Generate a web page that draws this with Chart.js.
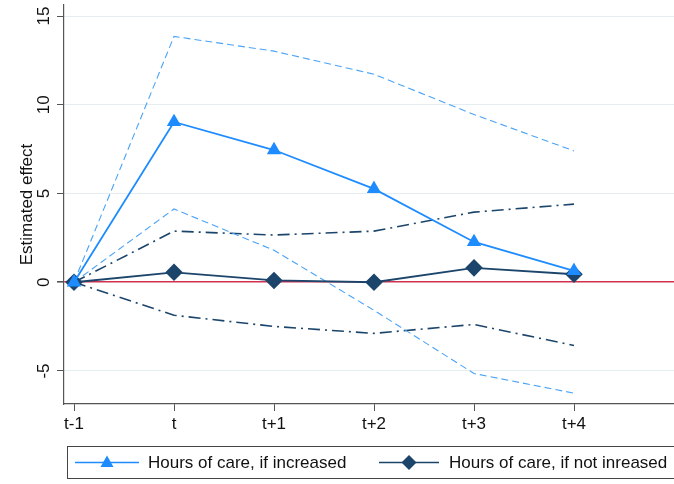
<!DOCTYPE html>
<html>
<head>
<meta charset="utf-8">
<script src="https://cdn.jsdelivr.net/npm/chart.js@4/dist/chart.umd.min.js"></script>
<style>
  html, body { margin: 0; padding: 0; background: #ffffff; }
  #wrap { width: 674px; height: 484px; }
</style>
</head>
<body>
<div id="wrap"><canvas id="c" width="674" height="484"></canvas></div>
<script>
// Event-time labels (position index 0 = t-1)
const tickLabels = ['t-1', 't', 't+1', 't+2', 't+3', 't+4'];
const yTicks = [-5, 0, 5, 10, 15];

// Hours of care, if increased: point estimate and 95% bounds
const increased      = [0, 9.03, 7.45, 5.26, 2.27, 0.64];
const increasedUpper = [0, 13.85, 13.02, 11.72, 9.45, 7.4];
const increasedLower = [0, 4.13, 1.8, -1.58, -5.14, -6.25];

// Hours of care, if not increased: point estimate and 95% bounds
const notIncreased      = [0, 0.56, 0.1, 0.0, 0.81, 0.45];
const notIncreasedUpper = [0, 2.88, 2.66, 2.88, 3.95, 4.4];
const notIncreasedLower = [0, -1.86, -2.49, -2.88, -2.38, -3.56];

const BLUE = '#1e8cff';
const BLUE_LIGHT = '#4aa3f7';
const NAVY = '#1c456b';
const ZERO = '#d2304f';
const FONT = '"Liberation Sans", Arial, sans-serif';

const toXY = arr => arr.map((v, i) => ({ x: i - 1, y: v }));

// Boxed legend: a line segment with the series marker, then the label
const legendBox = {
  id: 'legendBox',
  afterDraw(chart) {
    const ctx = chart.ctx;
    ctx.save();
    ctx.strokeStyle = '#444';
    ctx.lineWidth = 1;
    ctx.strokeRect(67.5, 446.5, 620, 32);
    const cy = 462.5;
    const items = [
      { ds: chart.data.datasets[0], x0: 75, x1: 139, tx: 148 },
      { ds: chart.data.datasets[1], x0: 379, x1: 439, tx: 449 }
    ];
    ctx.font = '17px ' + FONT;
    ctx.textBaseline = 'middle';
    items.forEach(it => {
      ctx.strokeStyle = it.ds.borderColor;
      ctx.lineWidth = 1.5;
      ctx.beginPath();
      ctx.moveTo(it.x0, cy);
      ctx.lineTo(it.x1, cy);
      ctx.stroke();
      const mx = (it.x0 + it.x1) / 2;
      ctx.fillStyle = it.ds.pointBackgroundColor;
      ctx.beginPath();
      if (it.ds.pointStyle === 'triangle') {
        ctx.moveTo(mx, cy - 7);
        ctx.lineTo(mx + 6.5, cy + 4.5);
        ctx.lineTo(mx - 6.5, cy + 4.5);
      } else {
        ctx.moveTo(mx, cy - 7.5);
        ctx.lineTo(mx + 7.5, cy);
        ctx.lineTo(mx, cy + 7.5);
        ctx.lineTo(mx - 7.5, cy);
      }
      ctx.closePath();
      ctx.fill();
      ctx.fillStyle = '#111';
      ctx.fillText(it.ds.label, it.tx, cy + 0.5);
    });
    ctx.restore();
  }
};

new Chart(document.getElementById('c'), {
  type: 'line',
  data: {
    datasets: [
      {
        label: 'Hours of care, if increased',
        data: toXY(increased),
        borderColor: BLUE, backgroundColor: BLUE,
        pointBackgroundColor: BLUE, pointBorderColor: BLUE,
        pointStyle: 'triangle', pointRadius: 6.5, borderWidth: 1.8
      },
      {
        label: 'Hours of care, if not inreased',
        data: toXY(notIncreased),
        borderColor: NAVY, backgroundColor: NAVY,
        pointBackgroundColor: NAVY, pointBorderColor: NAVY,
        pointStyle: 'rectRot', pointRadius: 7.5, borderWidth: 1.8
      },
      {
        data: toXY(increasedUpper), borderColor: BLUE_LIGHT,
        borderWidth: 1.1, borderDash: [7, 4], pointRadius: 0
      },
      {
        data: toXY(increasedLower), borderColor: BLUE_LIGHT,
        borderWidth: 1.1, borderDash: [7, 4], pointRadius: 0
      },
      {
        data: toXY(notIncreasedUpper), borderColor: NAVY,
        borderWidth: 1.6, borderDash: [12, 5, 2, 5], pointRadius: 0
      },
      {
        data: toXY(notIncreasedLower), borderColor: NAVY,
        borderWidth: 1.6, borderDash: [12, 5, 2, 5], pointRadius: 0
      }
    ]
  },
  options: {
    responsive: false,
    animation: false,
    layout: { autoPadding: false, padding: { top: 5, right: 0, left: 0, bottom: 0 } },
    plugins: {
      legend: { display: false },
      tooltip: { enabled: false }
    },
    scales: {
      x: {
        type: 'linear',
        min: -1.1, max: 5,
        afterBuildTicks: s => { s.ticks = tickLabels.map((_, i) => ({ value: i - 1 })); },
        afterFit: s => { s.height = 80; s.paddingLeft = 0; s.paddingRight = 0; },
        ticks: {
          callback: v => tickLabels[v + 1],
          color: '#111',
          font: { family: FONT, size: 17 },
          padding: 3, maxRotation: 0, minRotation: 0
        },
        grid: { drawOnChartArea: false, drawTicks: true, tickLength: 7, color: '#555' },
        border: { color: '#555', width: 1.2 }
      },
      y: {
        min: -6.86, max: 15.62,
        afterBuildTicks: s => { s.ticks = yTicks.map(v => ({ value: v })); },
        afterFit: s => { s.width = 64; s.paddingTop = 0; s.paddingBottom = 0; },
        ticks: {
          color: '#111',
          font: { family: FONT, size: 17 },
          minRotation: 90, maxRotation: 90,
          crossAlign: 'center', padding: 3
        },
        grid: {
          color: c => (c.tick && c.tick.value === 0) ? ZERO : '#e3edf2',
          lineWidth: c => (c.tick && c.tick.value === 0) ? 1.6 : 1,
          tickColor: '#555', tickLength: 7
        },
        border: { color: '#555', width: 1.2 },
        title: {
          display: true, text: 'Estimated effect', color: '#111',
          font: { family: FONT, size: 17 },
          padding: { top: 17, bottom: 0 }
        }
      }
    }
  },
  plugins: [legendBox]
});
</script>
</body>
</html>
